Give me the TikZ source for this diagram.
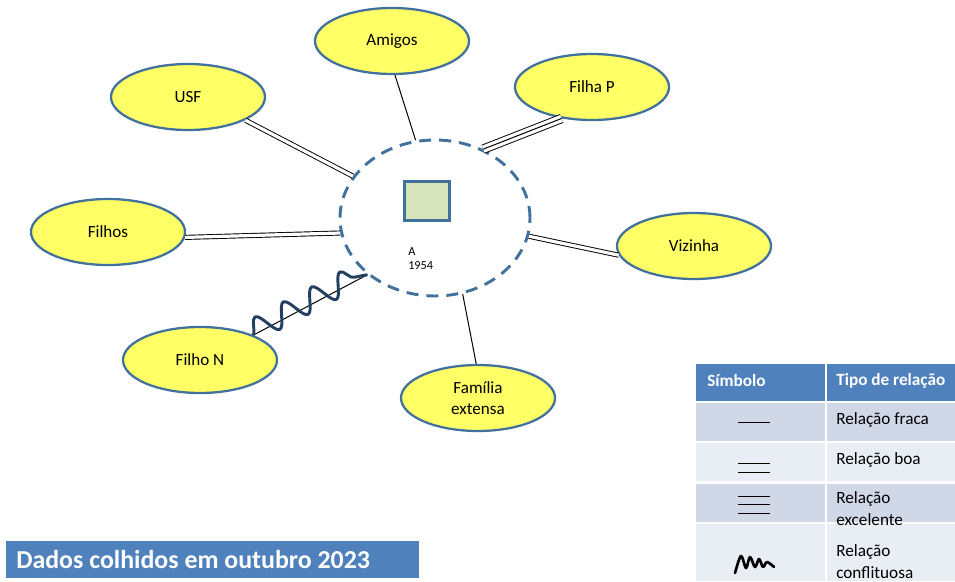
\documentclass[tikz,border=0pt]{standalone}
\usepackage{fontspec}
\setmainfont{Carlito}
\usetikzlibrary{shapes.geometric,decorations.pathmorphing}
\definecolor{bdr}{HTML}{41719C}
\definecolor{yel}{HTML}{FFFF66}
\definecolor{sq}{HTML}{D7E4BD}
\definecolor{hdr}{HTML}{4F81BD}
\definecolor{rowa}{HTML}{D0D8E8}
\definecolor{rowb}{HTML}{E9EDF4}
\definecolor{navy}{HTML}{243F60}
\tikzset{
  member/.style={ellipse, draw=bdr, line width=1.7pt, fill=yel,
    minimum width=115.5pt, minimum height=49.5pt, inner sep=0pt,
    font=\fontsize{12.8}{15.75}\selectfont, align=center},
  egoring/.style={ellipse, draw=bdr, line width=2.2pt,
    dash pattern=on 9pt off 6pt, minimum width=142.5pt, minimum height=117pt},
  weak/.style={line width=0.75pt},
  good/.style={line width=0.7pt, double, double distance=2.4pt},
  strong/.style={line width=0.7pt, double, double distance=5.6pt},
  conflict/.style={navy, line width=2.2pt, line join=round,
    decorate, decoration={snake, segment length=24pt, amplitude=8.5pt, raise=3pt}},
  celltext/.style={anchor=north west, inner sep=0pt, align=left,
    font=\fontsize{12.9}{16.5}\selectfont},
  headtext/.style={anchor=west, inner sep=0pt, text=white,
    font=\bfseries\fontsize{12.9}{14}\selectfont},
  legline/.style={line width=0.75pt}
}
\begin{document}
\begin{tikzpicture}[x=0.75pt,y=-0.75pt]
\useasboundingbox (0,0) rectangle (955,581);

% ecomap centre
\node[egoring] (ego) at (435,218) {};
\node[draw=bdr, line width=1.9pt, fill=sq, minimum width=33.75pt,
      minimum height=29pt, inner sep=0pt] (index) at (427,201) {};
\node[anchor=north west, inner sep=0pt, align=left,
      font=\fontsize{9.2}{10.8}\selectfont] (idlabel) at (408,247) {A\\1954};

% surrounding systems
\node[member] (amigos)  at (392,41)  {Amigos};
\node[member] (usf)     at (188,97)  {USF};
\node[member] (filhap)  at (592,87)  {Filha P};
\node[member] (filhos)  at (108,232) {Filhos};
\node[member] (vizinha) at (694,246) {Vizinha};
\node[member] (filhon)  at (200,360) {Filho N};
\node[member] (familia) at (478,398) {Família\\extensa};

% relationships
\draw[weak]   (amigos.-85)   -- (ego.104.7);
\draw[good]   (usf.-22.8)    -- (ego.153.7);
\draw[good]   (filhos.-4.4)  -- (ego.189.6);
\draw[strong] (filhap.-134)  -- (ego.55.7);
\draw[weak]   (filhap.-134)  -- (ego.55.7);
\draw[good]   (vizinha.187)  -- (ego.-11.9);
\draw[weak]   (familia.93.5) -- (ego.-70.7);
\draw[weak]   (filhon.25.6)  -- (ego.-140);
\draw[conflict] (filhon.25.6) -- (ego.-140);

% legend table
\fill[hdr]  (696,364) rectangle (825,401);
\fill[hdr]  (827,364) rectangle (955,401);
\fill[rowa] (696,403) rectangle (825,441);
\fill[rowa] (827,403) rectangle (955,441);
\fill[rowb] (696,443) rectangle (825,481);
\fill[rowb] (827,443) rectangle (955,481);
\fill[rowa] (696,484) rectangle (825,522);
\fill[rowa] (827,484) rectangle (955,522);
\fill[rowb] (696,524) rectangle (825,581);
\fill[rowb] (827,524) rectangle (955,581);

\node[headtext] (hsym)  at (707,381) {Símbolo};
\node[headtext] (htype) at (836,381) {Tipo de relação};
\node[celltext] (t1) at (836,412) {Relação fraca};
\node[celltext] (t2) at (836,452) {Relação boa};
\node[celltext] (t3) at (836,491) {Relação\\excelente};
\node[celltext] (t4) at (836,544) {Relação\\conflituosa};

\draw[legline] (738,422) -- (770,422);
\draw[legline] (738,463) -- (770,463);
\draw[legline] (738,472) -- (770,472);
\draw[legline] (738,496) -- (770,496);
\draw[legline] (738,504) -- (770,504);
\draw[legline] (738,513) -- (770,513);
\draw[line width=2pt, line join=round, line cap=round]
  plot[smooth, tension=0.55] coordinates {(735,573) (741,556) (746,568) (750,557)
    (755,567) (759,559) (763,567) (767,562) (774,567)};

% footer
\fill[hdr] (6,541) rectangle (419,578);
\node[anchor=west, inner sep=0pt, text=white,
      font=\bfseries\fontsize{19.4}{22}\selectfont] (note) at (16,560)
  {Dados colhidos em outubro 2023};
\end{tikzpicture}
\end{document}
